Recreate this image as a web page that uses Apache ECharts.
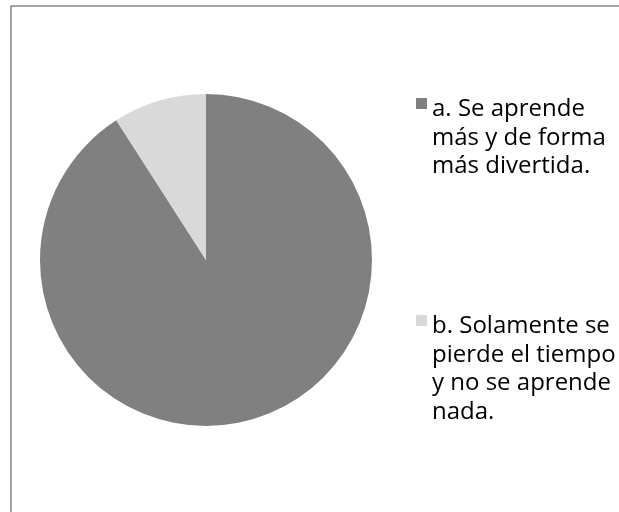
<!DOCTYPE html>
<html><head><meta charset="utf-8">
<script src="https://cdn.jsdelivr.net/npm/echarts@6/dist/echarts.min.js"></script>
<style>html,body{margin:0;padding:0;background:#fff}#c{width:619px;height:512px}</style>
</head><body><div id="c"></div>
<script>
const categories = ['a. Se aprende más y de forma más divertida.', 'b. Solamente se pierde el tiempo y no se aprende nada.'];
const values = [30, 3];
const colors = ['#808080', '#d9d9d9'];

const LH = 28.5;
const FONT = '24px "Open Sans"';
const WRAP_W = 186;
const mctx = document.createElement('canvas').getContext('2d');
mctx.font = FONT;
function wrap(text) {
  const words = text.split(' ');
  const lines = [];
  let cur = '';
  words.forEach(w => {
    const t = cur ? cur + ' ' + w : w;
    if (cur && mctx.measureText(t).width > WRAP_W) { lines.push(cur); cur = w; }
    else cur = t;
  });
  if (cur) lines.push(cur);
  return lines;
}
function iconFor(lines) {
  const h = lines * LH;
  return 'path://M0,0 L0,0 M0,3 L11,3 L11,14 L0,14 Z M0,' + h + ' L0,' + h;
}
const chart = echarts.init(document.getElementById('c'), null, {renderer: 'canvas'});
const textStyle = {fontFamily: 'Open Sans', fontSize: 24, color: '#000', lineHeight: LH, align: 'left'};
const fmt = name => wrap(name).join('\n');
chart.setOption({
  animation: false,
  graphic: [{type: 'rect', shape: {x: 11, y: 6, width: 700, height: 600}, style: {fill: 'none', stroke: '#868686', lineWidth: 1.5}, silent: true}],
  legend: categories.map((c, i) => ({
    data: [c], orient: 'vertical', left: 416, top: i === 0 ? 95 : 312,
    itemWidth: 11, itemHeight: wrap(c).length * LH, itemGap: 0,
    icon: iconFor(wrap(c).length), textStyle: textStyle, padding: 0, formatter: fmt
  })),
  series: [{
    type: 'pie',
    center: [206, 260],
    radius: 166,
    startAngle: 90,
    clockwise: true,
    label: {show: false},
    labelLine: {show: false},
    emphasis: {disabled: true},
    itemStyle: {borderWidth: 0},
    data: categories.map((n, i) => ({name: n, value: values[i], itemStyle: {color: colors[i]}}))
  }]
});
</script></body></html>
